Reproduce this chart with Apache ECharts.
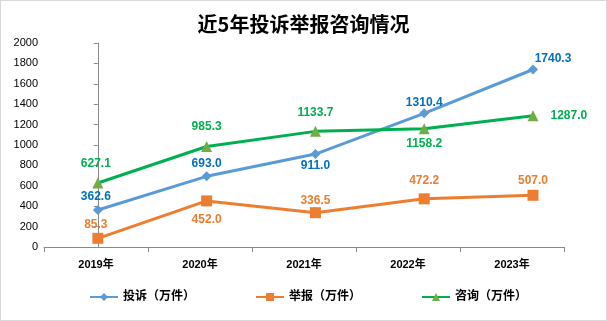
<!DOCTYPE html>
<html><head><meta charset="utf-8">
<script src="https://cdn.jsdelivr.net/npm/echarts@6/dist/echarts.min.js"></script>
<style>html,body{margin:0;padding:0;background:#fff}#c{width:605px;height:319px;border:1px solid #d9d9d9}</style>
</head><body><div id="c"></div>
<script>
const categories = ['2019年','2020年','2021年','2022年','2023年'];
const complaints = [362.6, 693.0, 911.0, 1310.4, 1740.3];
const reports = [85.3, 452.0, 336.5, 472.2, 507.0];
const inquiries = [627.1, 985.3, 1133.7, 1158.2, 1287.0];
const seriesNames = ['投诉（万件）','举报（万件）','咨询（万件）'];
const yTicks = {min: 0, max: 2000, interval: 200};

const FONT = '"Liberation Sans","Noto Sans CJK SC",sans-serif';
function build(vals, placements) {
  return vals.map((v, i) => {
    const p = placements[i];
    const lab = {position: p[0], distance: p[1]};
    if (p[2]) lab.offset = p[2];
    return {value: [i, v], label: lab};
  });
}
const chart = echarts.init(document.getElementById('c'));
const labelBase = c => ({show: true, fontSize: 12, fontWeight: 'bold', fontFamily: FONT, color: c,
  formatter: p => p.value[1].toFixed(1)});
chart.setOption({
  animation: false,
  title: {text: '近5年投诉举报咨询情况', left: 'center', top: 8,
    textStyle: {fontSize: 20, fontWeight: 'bold', color: '#000', fontFamily: '"Noto Sans CJK SC",serif'}},
  grid: {left: 43, right: 42, top: 42, bottom: 73},
  legend: {left: 88, top: 290, padding: 0, itemWidth: 28, itemHeight: 10, itemGap: 60,
    textStyle: {fontSize: 12, fontWeight: 'bold', color: '#000', fontFamily: FONT},
    data: seriesNames},
  xAxis: [
    {type: 'category', data: categories, boundaryGap: true,
      axisLine: {lineStyle: {color: '#898989'}},
      axisTick: {show: true, length: 5, lineStyle: {color: '#898989'}},
      axisLabel: {fontSize: 11, fontWeight: 'bold', color: '#000', fontFamily: FONT, margin: 12}},
    {type: 'value', min: -0.495, max: 4.285, show: false}
  ],
  yAxis: {type: 'value', min: yTicks.min, max: yTicks.max, interval: yTicks.interval,
    axisLine: {show: true, lineStyle: {color: '#898989'}},
    axisTick: {show: true, length: 4, lineStyle: {color: '#898989'}},
    splitLine: {show: false},
    axisLabel: {fontSize: 11, color: '#000', fontFamily: FONT, margin: 6, formatter: v => String(v)}},
  series: [
    {name: seriesNames[0], type: 'line', xAxisIndex: 1, symbol: 'diamond', symbolSize: 10,
      color: '#5B9BD5', lineStyle: {width: 3, color: '#5B9BD5'}, itemStyle: {color: '#5B9BD5'},
      label: labelBase('#0070C0'), z: 3,
      data: build(complaints, [['top', 2, [-2, 0]], ['top', 2], ['bottom', 1], ['top', 0], ['top', 2, [20, 2]]])},
    {name: seriesNames[1], type: 'line', xAxisIndex: 1, symbol: 'rect', symbolSize: 11,
      color: '#ED7D31', lineStyle: {width: 3, color: '#ED7D31'}, itemStyle: {color: '#ED7D31'},
      label: labelBase('#ED7D31'), z: 2,
      data: build(reports, [['top', 2, [-2, 0]], ['bottom', 7], ['top', 0], ['top', 7], ['top', 3]])},
    {name: seriesNames[2], type: 'line', xAxisIndex: 1, symbol: 'triangle', symbolSize: 11,
      color: '#70AD47', lineStyle: {width: 3, color: '#00B050'}, itemStyle: {color: '#70AD47'},
      label: labelBase('#00B050'), z: 4,
      data: build(inquiries, [['top', 8, [-2, 0]], ['top', 8], ['top', 7], ['bottom', 3], ['right', 12]])}
  ]
});
</script></body></html>
